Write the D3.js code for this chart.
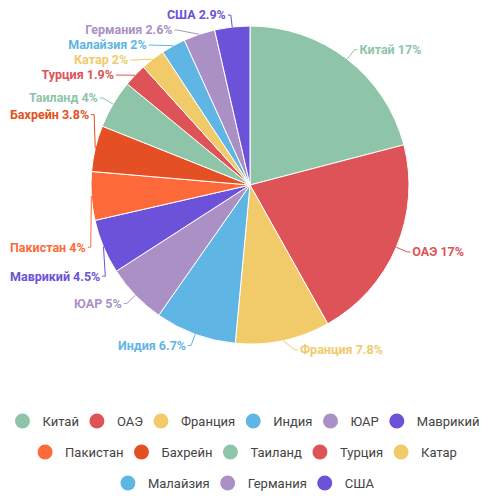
<!DOCTYPE html>
<html>
<head>
<meta charset="utf-8">
<script src="https://cdn.jsdelivr.net/npm/d3@7"></script>
<style>
  body { margin: 0; background: #fff; }
  svg { display: block; font-family: Roboto, "Noto Sans", sans-serif; }
</style>
</head>
<body>
<div id="chart"></div>
<script>
// exports share by country, %
var countries = ["Китай", "ОАЭ", "Франция", "Индия", "ЮАР", "Маврикий", "Пакистан",
                 "Бахрейн", "Таиланд", "Турция", "Катар", "Малайзия", "Германия", "США"];
var shares = [17, 17, 7.8, 6.7, 5, 4.5, 4, 3.8, 4, 1.9, 2, 2, 2.6, 2.9];
var palette = ["#8ec4a8", "#dd5357", "#f1ca6a", "#5fb6e5", "#ab90c6", "#6c52d9", "#fe6939", "#e44f23"];

var width = 494, height = 504;
var cx = 250, cy = 185, radius = 159;
var lineLen = 12, lineLen2 = 3, textGap = 2, labelH = 15, edgeMargin = 10;

var svg = d3.select("#chart").append("svg")
    .attr("width", width)
    .attr("height", height);

var color = d3.scaleOrdinal().domain(countries).range(palette);

var data = countries.map(function(c, i) { return {name: c, value: shares[i]}; });
var arcs = d3.pie().sort(null).value(function(d) { return d.value; })(data);
var arc = d3.arc().innerRadius(0).outerRadius(radius);

var g = svg.append("g").attr("transform", "translate(" + cx + "," + cy + ")");

g.selectAll("path.slice")
    .data(arcs)
  .enter().append("path")
    .attr("class", "slice")
    .attr("d", arc)
    .attr("fill", function(d) { return color(d.data.name); })
    .attr("stroke", "#fff")
    .attr("stroke-width", 1);

var rr = radius + lineLen;
var labels = arcs.map(function(d) {
  var a = (d.startAngle + d.endAngle) / 2;
  var nx = Math.sin(a), ny = -Math.cos(a);
  return {
    d: d, dir: nx < 0 ? -1 : 1,
    p0: [radius * nx, radius * ny],
    x0: rr * nx,
    y: rr * ny
  };
});

var texts = g.selectAll("text.lbl")
    .data(labels)
  .enter().append("text")
    .attr("class", "lbl")
    .attr("dy", "0.35em")
    .attr("text-anchor", function(l) { return l.dir > 0 ? "start" : "end"; })
    .attr("fill", function(l) { return color(l.d.data.name); })
    .style("font-size", "12.5px")
    .style("font-weight", "bold")
    .text(function(l) { return l.d.data.name + " " + l.d.data.value + "%"; })
    .each(function(l) { l.w = this.getComputedTextLength(); });

// labels that would run off the side slide along the ring until they fit
labels.forEach(function(l) {
  var room = (l.dir > 0 ? width - cx : cx) - edgeMargin - l.w - lineLen2 - textGap;
  if (room < rr && Math.abs(l.y) < Math.sqrt(rr * rr - room * room)) {
    l.y = (l.y < 0 ? -1 : 1) * Math.sqrt(rr * rr - room * room);
  }
});

function layoutSide(list) {
  list.sort(function(a, b) { return a.y - b.y; });
  var top = 8 - cy, bottom = 350 - cy;
  for (var i = 0; i < list.length; i++) {
    if (i == 0) list[i].y = Math.max(list[i].y, top);
    else if (list[i].y < list[i-1].y + labelH) list[i].y = list[i-1].y + labelH;
  }
  for (var j = list.length - 1; j >= 0; j--) {
    if (j == list.length - 1) list[j].y = Math.min(list[j].y, bottom);
    else if (list[j].y > list[j+1].y - labelH) list[j].y = list[j+1].y - labelH;
  }
}
layoutSide(labels.filter(function(l) { return l.dir > 0; }));
layoutSide(labels.filter(function(l) { return l.dir < 0; }));

labels.forEach(function(l) {
  var x1 = Math.abs(l.y) < rr ? l.dir * Math.sqrt(rr * rr - l.y * l.y) : l.x0;
  l.p1 = [x1, l.y];
  l.p2 = [x1 + l.dir * lineLen2, l.y];
  l.tx = l.p2[0] + l.dir * textGap;
});

g.selectAll("path.guide")
    .data(labels)
  .enter().insert("path", "text")
    .attr("class", "guide")
    .attr("fill", "none")
    .attr("stroke", function(l) { return color(l.d.data.name); })
    .attr("stroke-width", 1)
    .attr("d", function(l) { return d3.line()([l.p0, l.p1, l.p2]); });

texts
    .attr("x", function(l) { return l.tx; })
    .attr("y", function(l) { return l.y; });

// Legend, wrapped into centered rows
var legendRowY = [421, 452, 483];
var legend = svg.append("g").attr("class", "legend");
var items = legend.selectAll("g.item")
    .data(countries)
  .enter().append("g")
    .attr("class", "item");

items.append("circle")
    .attr("r", 7.5)
    .attr("fill", function(d) { return color(d); });

items.append("text")
    .attr("x", 20)
    .attr("dy", "0.35em")
    .attr("fill", "#444")
    .style("font-size", "13px")
    .text(function(d) { return d; });

var rows = [[]], rowW = [0], maxW = width - 20;
items.each(function(d) {
  var w = 8 + 20 + this.querySelector("text").getComputedTextLength();
  var r = rows.length - 1;
  var add = (rows[r].length ? 10 : 0) + w;
  if (rowW[r] + add > maxW) { rows.push([]); rowW.push(0); r++; add = w; }
  rows[r].push({node: this, w: w});
  rowW[r] += add;
});
rows.forEach(function(row, r) {
  var x = (width - rowW[r]) / 2;
  row.forEach(function(it) {
    d3.select(it.node).attr("transform", "translate(" + (x + 8) + "," + legendRowY[r] + ")");
    x += it.w + 10;
  });
});
</script>
</body>
</html>
